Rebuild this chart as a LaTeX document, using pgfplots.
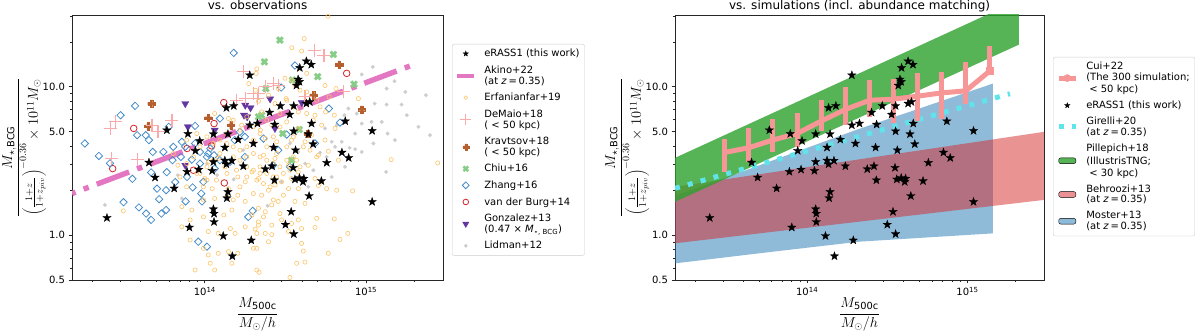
\documentclass[border=0pt]{standalone}
\usepackage{fontspec}
\setmainfont{DejaVu Sans}
\usepackage{pgfplots}
\pgfplotsset{compat=1.18}

\definecolor{tabblue}{HTML}{1F77B4}
\definecolor{tabred}{HTML}{D62728}
\definecolor{tabgreen}{HTML}{2CA02C}
\definecolor{tabpink}{HTML}{E377C2}
\definecolor{erfcol}{RGB}{253,196,105}
\definecolor{demcol}{RGB}{250,170,170}
\definecolor{kracol}{RGB}{180,95,45}
\definecolor{chicol}{RGB}{135,205,135}
\definecolor{zhacol}{RGB}{70,140,200}
\definecolor{gonzcol}{RGB}{100,55,160}
\definecolor{lidcol}{RGB}{205,205,205}
\definecolor{cuicol}{RGB}{247,150,150}
\definecolor{gircol}{RGB}{95,228,235}

\newcommand{\legfont}{\fontsize{10}{11.6}\selectfont}
\newcommand{\labfont}{\fontsize{14}{17}\selectfont}

\pgfdeclareplotmark{fstar}{%
 \pgfpathmoveto{\pgfpointpolar{90}{\pgfplotmarksize}}%
 \pgfpathlineto{\pgfpointpolar{126}{0.4*\pgfplotmarksize}}%
 \pgfpathlineto{\pgfpointpolar{162}{\pgfplotmarksize}}%
 \pgfpathlineto{\pgfpointpolar{198}{0.4*\pgfplotmarksize}}%
 \pgfpathlineto{\pgfpointpolar{234}{\pgfplotmarksize}}%
 \pgfpathlineto{\pgfpointpolar{270}{0.4*\pgfplotmarksize}}%
 \pgfpathlineto{\pgfpointpolar{306}{\pgfplotmarksize}}%
 \pgfpathlineto{\pgfpointpolar{342}{0.4*\pgfplotmarksize}}%
 \pgfpathlineto{\pgfpointpolar{18}{\pgfplotmarksize}}%
 \pgfpathlineto{\pgfpointpolar{54}{0.4*\pgfplotmarksize}}%
 \pgfpathclose\pgfusepathqfillstroke}

\pgfdeclareplotmark{Pfill}{%
 \pgfpathmoveto{\pgfqpoint{-0.34\pgfplotmarksize}{\pgfplotmarksize}}%
 \pgfpathlineto{\pgfqpoint{0.34\pgfplotmarksize}{\pgfplotmarksize}}%
 \pgfpathlineto{\pgfqpoint{0.34\pgfplotmarksize}{0.34\pgfplotmarksize}}%
 \pgfpathlineto{\pgfqpoint{\pgfplotmarksize}{0.34\pgfplotmarksize}}%
 \pgfpathlineto{\pgfqpoint{\pgfplotmarksize}{-0.34\pgfplotmarksize}}%
 \pgfpathlineto{\pgfqpoint{0.34\pgfplotmarksize}{-0.34\pgfplotmarksize}}%
 \pgfpathlineto{\pgfqpoint{0.34\pgfplotmarksize}{-\pgfplotmarksize}}%
 \pgfpathlineto{\pgfqpoint{-0.34\pgfplotmarksize}{-\pgfplotmarksize}}%
 \pgfpathlineto{\pgfqpoint{-0.34\pgfplotmarksize}{-0.34\pgfplotmarksize}}%
 \pgfpathlineto{\pgfqpoint{-\pgfplotmarksize}{-0.34\pgfplotmarksize}}%
 \pgfpathlineto{\pgfqpoint{-\pgfplotmarksize}{0.34\pgfplotmarksize}}%
 \pgfpathlineto{\pgfqpoint{-0.34\pgfplotmarksize}{0.34\pgfplotmarksize}}%
 \pgfpathclose\pgfusepathqfillstroke}

\begin{document}
\begin{tikzpicture}
\useasboundingbox (0pt,0pt) rectangle (1200pt,332pt);

% ================= LEFT PANEL =================
\begin{axis}[at={(72pt,52pt)}, anchor=south west, width=371pt, height=265pt,
  scale only axis, xmode=log, ymode=log,
  xmin=1.5e13, xmax=3e15, ymin=0.5, ymax=30.4,
  xtick={1e14,1e15}, xticklabels={10\textsuperscript{14},10\textsuperscript{15}},
  minor xtick={2e13,3e13,4e13,5e13,6e13,7e13,8e13,9e13,2e14,3e14,4e14,5e14,6e14,7e14,8e14,9e14,2e15},
  ytick={0.5,1,5,10}, yticklabels={0.5,1.0,5.0,10.0},
  minor ytick={0.6,0.7,0.8,0.9,2,3,4,6,7,8,9,20,30},
  tick align=outside, xtick pos=bottom, ytick pos=left,
  major tick length=3.5pt, minor tick length=2pt,
  major tick style={black!85, line width=0.8pt},
  minor tick style={black!85, line width=0.6pt},
  axis line style={black!85, line width=0.8pt},
  tick label style={font=\fontsize{10}{12}\selectfont},
  every axis title/.style={at={(0.5,1)}, anchor=base, yshift=5.5pt, font=\fontsize{12}{14}\selectfont},
  every axis x label/.style={at={(axis description cs:0.5,-0.1925)}, anchor=south, inner sep=0pt},
  every axis y label/.style={at={(axis description cs:-0.1887,0.5)}, rotate=90, anchor=north, inner sep=0pt},
  xlabel={\labfont$\displaystyle\frac{M_{\mathrm{500c}}}{M_\odot/h}$},
  ylabel={\labfont$\displaystyle\frac{M_{\star,\mathrm{BCG}}}{\left(\frac{1+z}{1+z_{piv}}\right)^{-0.36}\times 10^{11}M_\odot}$},
  legend style={font=\legfont, draw=black!20, rounded corners=2pt, fill=white,
    row sep=3.5pt, inner xsep=3pt, inner ysep=3pt, at={(1.0243,0.8906)}, anchor=north west,
    /tikz/every odd column/.append style={column sep=6pt}},
  legend cell align=left,
  title={\fontsize{12}{14}\selectfont vs. observations}]

% Lidman+12
\addplot[forget plot, only marks, lidcol, mark=*, mark size=1.9pt, mark options={draw=lidcol, fill=lidcol, line width=0.1pt}] table {
1.10e15 13.6
9.4e14 12.1
1.34e15 9.72
1.75e15 9.23
1.50e15 10.9
2.35e15 8.77
1.66e15 7.58
1.34e15 7.58
1.13e15 7.70
8.75e14 6.60
7.76e14 7.13
9.4e14 5.65
1.08e15 5.80
1.25e15 5.80
1.79e15 6.43
2.11e15 5.37
2.49e15 4.72
1.36e15 4.84
1.51e15 4.37
1.11e15 4.15
8.55e14 4.84
7.33e14 6.43
6.57e14 5.51
7.06e14 4.26
6.12e14 4.26
5.56e14 5.24
9.4e14 3.64
8.55e14 3.80
7.9e14 3.88
7.4e14 2.89
6.12e14 2.47
1.33e15 2.67
6.42e14 3.94
5.18e14 3.60
4.71e14 2.74
4.18e14 3.04
4.38e14 2.12
2.45e14 1.58
2.99e14 2.29
3.80e14 3.64
2.40e13 1.60
6.8e13 2.54
7.2e13 1.77
1.03e14 3.04
1.19e14 2.54
1.51e14 2.38
1.73e14 3.74
3.37e14 4.15
5.69e14 3.37
};

% Gonzalez+13
\addplot[forget plot, only marks, gonzcol, mark=triangle*, mark size=4.2pt, mark options={rotate=180, draw=gonzcol, fill=gonzcol, line width=0.3pt}] table {
7.56e13 7.70
7.85e13 5.37
1.78e14 7.51
1.92e14 7.21
1.75e14 6.43
1.83e14 6.27
1.15e14 5.10
2.54e14 8.28
3.99e14 7.82
2.72e14 5.24
7.56e13 2.96
};

% van der Burg+14
\addplot[forget plot, only marks, tabred, mark=o, mark size=3.3pt, mark options={draw=tabred, line width=0.8pt}] table {
2.68e13 2.81
3.62e13 5.24
1.31e14 7.82
1.14e14 5.65
1.10e14 4.00
7.75e13 3.84
8.5e13 2.74
1.32e14 2.25
7.58e14 12.3
};

% Zhang+16
\addplot[forget plot, only marks, zhacol, mark=square, mark size=2.6pt, mark options={rotate=45, draw=zhacol, line width=0.8pt}] table {
1.51e14 16.9
3.62e14 13.9
3.69e13 7.43
3.0e13 6.43
1.80e13 4.15
2.2e13 3.42
2.58e13 3.05
3.8e13 4.72
4.3e13 4.72
4.5e13 4.37
5.97e13 5.37
8.7e13 5.45
1.24e14 6.11
2.97e14 9.87
5.88e14 7.13
6.89e14 5.74
3.22e14 4.76
4.75e13 3.64
5.53e13 3.64
6.37e13 3.94
7.2e13 4.26
7.56e13 3.94
8.7e13 4.15
9.33e13 3.64
1.05e14 3.55
1.08e14 3.84
9.33e13 3.04
1.03e14 3.37
1.14e14 3.46
1.24e14 3.20
1.43e14 3.12
1.15e14 2.81
8.3e13 3.23
7.1e13 3.37
6.3e13 3.20
5.8e13 2.66
4.64e13 2.65
3.55e13 2.40
5.05e13 2.06
5.75e13 2.01
6.55e13 2.28
7.75e13 2.47
8.4e13 2.10
9.79e13 2.29
9.5e13 1.91
7.6e13 1.69
9.6e13 1.69
5.2e13 1.75
3.13e13 1.67
3.9e13 1.54
4.32e13 1.40
4.64e13 1.27
5.37e13 1.40
5.75e13 1.48
1.98e14 1.46
1.86e14 1.33
9.1e13 0.905
1.03e14 0.838
1.65e14 4.97
1.77e14 4.60
2.31e14 4.48
1.53e14 4.37
1.77e14 3.37
2.85e14 3.74
2.65e14 2.96
3.37e14 2.89
4.82e14 4.15
};

% Chiu+16
\addplot[forget plot, only marks, chicol, mark=Pfill, mark size=3.8pt, mark options={rotate=45, draw=chicol, fill=chicol, line width=0.2pt}] table {
2.92e14 20.6
2.34e14 14.7
6.27e14 16.5
5.01e14 11.7
3.49e14 11.1
8.42e14 10.4
2.39e14 9.72
2.25e14 6.43
2.15e14 6.27
3.85e14 5.15
3.04e14 4.84
3.45e14 3.20
};

% Kravtsov+18
\addplot[forget plot, only marks, kracol, mark=Pfill, mark size=3.7pt, mark options={draw=kracol, fill=kracol, line width=0.2pt}] table {
4.66e13 7.70
4.44e13 5.42
1.05e14 6.17
1.45e14 5.51
6.8e14 14.1
4.71e14 8.77
9.4e14 7.03
4.34e14 4.84
};

% DeMaio+18
\addplot[forget plot, only marks, demcol, mark=+, mark size=6.5pt, mark options={draw=demcol, line width=1.1pt}] table {
2.6e13 5.24
2.79e13 5.80
4.7e13 5.51
6.25e13 5.95
5.12e13 4.97
2.63e13 3.29
3.83e13 3.23
1.74e14 12.6
2.01e14 9.0
1.78e14 8.32
2.11e14 8.32
2.37e14 9.97
2.66e14 10.5
2.85e14 10.2
2.15e14 9.0
4.78e14 17.6
5.48e14 16.3
7.23e14 9.23
4.18e14 8.54
1.57e14 8.11
};

% Erfanianfar+19
\addplot[forget plot, only marks, erfcol, mark=o, mark size=2.1pt, mark options={draw=erfcol, line width=0.6pt}] table {
5.8e14 29.8
4.13e14 21.1
3.46e14 18.3
3.98e14 17.4
4.28e14 12.3
3.45e14 11.1
5.56e14 10.2
6.5e14 9.72
5.9e14 8.54
5.18e14 7.32
5.6e14 6.77
6.35e14 6.43
4.82e14 6.43
6.42e14 5.24
8.96e14 8.32
4.28e14 9.23
3.62e14 10.2
3.14e14 11.4
2.85e14 9.72
2.48e14 8.77
2.15e14 7.99
3.19e14 8.32
2.72e14 7.70
3.80e14 6.77
3.22e14 5.80
2.60e14 5.51
2.25e14 6.77
5.30e14 5.51
4.71e14 5.95
3.80e14 5.24
4.60e14 4.72
5.56e14 4.37
4.18e14 4.26
3.45e14 4.37
2.79e14 4.26
2.37e14 4.48
2.10e14 13.2
2.08e14 12.3
1.87e14 10.5
2.06e14 9.47
1.15e14 6.60
1.69e14 5.51
1.40e14 6.11
2.21e14 5.10
1.43e15 3.23
2.78e15 3.07
6.57e14 2.01
8.25e14 1.99
6.35e14 1.29
7.7e14 1.03
6.89e14 0.938
5.83e14 0.756
4.94e14 1.30
4.82e14 1.13
3.98e14 1.11
3.98e14 0.882
4.08e14 0.783
3.71e14 0.648
4.18e14 0.660
3.37e14 0.52
2.17e14 0.563
3.62e14 1.69
3.80e14 1.27
3.45e14 1.20
3.30e14 1.06
4.18e14 1.64
3.07e14 1.86
2.85e14 1.69
2.60e14 1.60
2.37e14 1.44
2.15e14 1.52
2.25e14 1.86
2.48e14 2.01
2.72e14 2.18
2.99e14 2.29
3.30e14 2.06
3.45e14 2.41
3.80e14 2.06
4.82e14 2.41
5.30e14 2.29
5.69e14 2.06
5.06e14 2.16
5.06e14 3.46
5.83e14 3.68
6.73e14 3.20
2.31e14 1.33
2.60e14 1.17
2.99e14 1.27
2.15e14 1.17
2.37e14 1.03
2.60e14 1.01
2.48e14 0.905
2.10e14 0.817
2.31e14 3.46
2.72e14 3.29
3.30e14 2.96
3.80e14 2.67
4.38e14 2.96
3.12e13 1.46
7.2e13 1.14
8.1e13 0.929
8.7e13 0.584
1.08e14 0.648
1.15e14 0.584
8.3e13 1.48
9.8e13 1.33
1.05e14 1.06
9.8e13 0.817
1.21e14 0.756
1.40e14 0.776
1.60e14 0.756
1.54e14 1.03
1.78e14 1.14
2.05e14 1.10
2.10e14 1.03
2.00e14 0.817
6.8e13 2.96
1.0e14 2.41
1.11e14 2.06
1.05e14 3.12
1.21e14 3.29
1.33e14 2.89
1.60e14 2.47
1.78e14 2.29
1.96e14 2.67
2.15e14 2.41
1.60e14 1.86
1.78e14 1.69
1.47e14 1.48
1.31e14 1.37
1.21e14 1.03
1.44e14 1.11
7.2e13 1.56
8.1e13 1.27
9.8e13 1.73
1.15e14 1.77
1.40e14 2.06
1.96e14 1.37
2.15e14 1.23
1.05e14 0.737
1.47e14 0.648
2.10e14 0.584
1.24e14 4.37
1.37e14 4.15
1.50e14 3.94
1.65e14 3.74
1.82e14 3.94
2.00e14 3.55
2.20e14 3.37
2.42e14 3.20
2.66e14 3.04
1.50e14 3.37
1.65e14 3.20
1.82e14 2.89
2.00e14 2.74
2.20e14 2.61
2.42e14 2.61
2.66e14 2.47
2.92e14 2.89
3.22e14 3.20
3.54e14 3.37
3.89e14 2.89
1.24e14 3.55
1.13e14 3.20
1.03e14 2.89
9.33e13 2.61
1.03e14 2.35
1.18e14 2.35
1.37e14 2.61
1.57e14 2.74
1.82e14 2.47
2.10e14 2.35
2.31e14 2.23
2.54e14 2.12
2.79e14 2.47
3.07e14 2.61
3.37e14 2.74
3.71e14 3.20
4.08e14 3.94
4.49e14 3.74
4.94e14 3.37
1.37e14 4.84
1.65e14 5.10
2.00e14 5.37
2.42e14 5.95
2.92e14 6.60
3.54e14 7.32
3.22e14 8.11
3.89e14 9.47
1.50e14 5.95
1.82e14 6.27
2.20e14 4.84
2.66e14 4.60
3.22e14 3.94
1.13e14 4.15
9.33e13 3.94
8.49e13 3.37
7.71e13 3.04
8.9e13 2.61
9.79e13 2.12
7.71e13 2.12
7.01e13 2.47
6.37e13 3.55
2.00e14 4.37
2.42e14 3.94
2.92e14 5.37
3.54e14 4.60
4.28e14 6.60
4.94e14 8.11
8.9e13 4.84
1.03e14 4.60
7.71e13 4.37
1.82e14 3.37
2.20e14 2.89
2.79e14 3.55
1.65e14 2.12
2.00e14 1.91
1.50e14 1.73
1.37e14 1.82
2.66e14 1.73
2.92e14 1.40
};

% Akino+22
\addplot[forget plot, tabpink, line width=5.4pt, dash pattern=on 34.6pt off 8.6pt on 5.4pt off 8.6pt, dash phase=30.8pt] coordinates {(1.5e13,1.91) (2.01e15,14.2)};

% eRASS1
\addplot[forget plot, only marks, black, mark=fstar, mark size=4.4pt, mark options={draw=black, fill=black, line width=0.3pt}] table {
1.90e14 11.96
1.36e14 7.21
1.51e14 7.43
5.81e13 5.10
7.85e13 4.82
1.13e14 4.80
1.39e14 4.80
9.29e13 4.32
1.61e14 4.41
1.90e14 5.51
2.12e14 5.66
2.00e14 4.15
1.33e14 3.90
8.73e13 3.71
4.50e13 3.09
1.13e14 3.12
1.33e14 3.19
1.47e14 3.18
1.36e14 3.01
1.73e14 2.92
4.91e13 2.45
7.75e13 2.68
9.16e13 2.77
1.11e14 2.72
6.45e13 2.07
1.39e14 1.96
1.37e14 1.78
1.13e14 1.50
1.14e14 1.40
2.47e13 1.31
1.14e14 1.23
8.02e13 1.13
1.30e14 0.99
1.94e14 0.925
1.48e14 0.724
4.26e14 14.85
4.57e14 14.1
3.88e14 13.4
3.79e14 11.2
3.86e14 10.8
3.70e14 10.2
2.94e14 7.43
3.56e14 7.43
4.26e14 7.71
4.47e14 7.91
2.52e14 6.71
3.36e14 6.50
2.71e14 5.57
4.59e14 5.66
7.43e14 5.86
3.56e14 5.02
4.38e14 4.80
1.09e15 5.05
4.69e14 4.11
2.67e14 3.90
3.65e14 3.74
7.08e14 3.61
7.80e14 3.32
5.70e14 3.08
2.61e14 2.92
2.37e14 2.79
3.53e14 2.85
2.70e14 2.35
3.62e14 2.38
3.86e14 2.43
4.11e14 2.41
4.06e14 2.29
5.28e14 2.32
4.43e14 1.84
1.09e15 1.68
3.43e14 1.44
3.16e14 1.18
3.56e14 1.02
};

\addlegendimage{only marks, black, mark=fstar, mark size=2.8pt, mark options={draw=black, fill=black, line width=0.3pt}}
\addlegendentry{\legfont eRASS1 (this work)}
\addlegendimage{tabpink, line width=4pt}
\addlegendentry{\legfont\shortstack[l]{Akino+22\\(at \textit{z}\,=\,0.35)}}
\addlegendimage{only marks, erfcol, mark=o, mark size=1.8pt, mark options={draw=erfcol, line width=0.6pt}}
\addlegendentry{\legfont Erfanianfar+19}
\addlegendimage{only marks, demcol, mark=+, mark size=5.5pt, mark options={draw=demcol, line width=1pt}}
\addlegendentry{\legfont\shortstack[l]{DeMaio+18\\( < 50 kpc)}}
\addlegendimage{only marks, kracol, mark=Pfill, mark size=3pt, mark options={draw=kracol, fill=kracol, line width=0.2pt}}
\addlegendentry{\legfont\shortstack[l]{Kravtsov+18\\( < 50 kpc)}}
\addlegendimage{only marks, chicol, mark=Pfill, mark size=3.2pt, mark options={rotate=45, draw=chicol, fill=chicol, line width=0.2pt}}
\addlegendentry{\legfont Chiu+16}
\addlegendimage{only marks, zhacol, mark=square, mark size=2.4pt, mark options={rotate=45, draw=zhacol, line width=0.8pt}}
\addlegendentry{\legfont Zhang+16}
\addlegendimage{only marks, tabred, mark=o, mark size=2.8pt, mark options={draw=tabred, line width=0.8pt}}
\addlegendentry{\legfont van der Burg+14}
\addlegendimage{only marks, gonzcol, mark=triangle*, mark size=3.6pt, mark options={rotate=180, draw=gonzcol, fill=gonzcol}}
\addlegendentry{\legfont\shortstack[l]{Gonzalez+13\\(0.47 × \textit{M}\textsubscript{⋆, BCG})}}
\addlegendimage{only marks, lidcol, mark=*, mark size=1.6pt, mark options={draw=lidcol, fill=lidcol}}
\addlegendentry{\legfont Lidman+12}
\end{axis}

% ================= RIGHT PANEL =================
\begin{axis}[at={(675pt,52pt)}, anchor=south west, width=369pt, height=265pt,
  scale only axis, xmode=log, ymode=log,
  xmin=1.5e13, xmax=3e15, ymin=0.5, ymax=30.4,
  xtick={1e14,1e15}, xticklabels={10\textsuperscript{14},10\textsuperscript{15}},
  minor xtick={2e13,3e13,4e13,5e13,6e13,7e13,8e13,9e13,2e14,3e14,4e14,5e14,6e14,7e14,8e14,9e14,2e15},
  ytick={0.5,1,5,10}, yticklabels={0.5,1.0,5.0,10.0},
  minor ytick={0.6,0.7,0.8,0.9,2,3,4,6,7,8,9,20,30},
  tick align=outside, xtick pos=bottom, ytick pos=left,
  major tick length=3.5pt, minor tick length=2pt,
  major tick style={black!85, line width=0.8pt},
  minor tick style={black!85, line width=0.6pt},
  axis line style={black!85, line width=0.8pt},
  tick label style={font=\fontsize{10}{12}\selectfont},
  every axis title/.style={at={(0.5,1)}, anchor=base, yshift=5.5pt, font=\fontsize{12}{14}\selectfont},
  every axis x label/.style={at={(axis description cs:0.5,-0.1925)}, anchor=south, inner sep=0pt},
  every axis y label/.style={at={(axis description cs:-0.1897,0.5)}, rotate=90, anchor=north, inner sep=0pt},
  xlabel={\labfont$\displaystyle\frac{M_{\mathrm{500c}}}{M_\odot/h}$},
  ylabel={\labfont$\displaystyle\frac{M_{\star,\mathrm{BCG}}}{\left(\frac{1+z}{1+z_{piv}}\right)^{-0.36}\times 10^{11}M_\odot}$},
  legend style={font=\legfont, draw=black!20, rounded corners=2pt, fill=white,
    row sep=3pt, inner xsep=3pt, inner ysep=3pt, at={(1.0244,0.8415)}, anchor=north west,
    /tikz/every odd column/.append style={column sep=6pt}},
  legend cell align=left,
  title={\fontsize{12}{14}\selectfont vs. simulations (incl. abundance matching)}]

% Moster+13
\addplot[forget plot, draw=none, fill=tabblue, fill opacity=0.5] coordinates {
(1.5e13,1.84) (2.33e13,2.18) (2.0e14,5.1) (1.44e15,10.5)
(1.44e15,1.03) (2.12e14,0.906) (5.66e13,0.768) (1.5e13,0.647) (1.5e13,1.84)};
% Behroozi+13
\addplot[forget plot, draw=none, fill=tabred, fill opacity=0.5] coordinates {
(1.5e13,2.12) (3e15,4.97) (3e15,1.73) (1.5e13,0.883) (1.5e13,2.12)};
% Pillepich+18
\addplot[forget plot, draw=none, fill=tabgreen, fill opacity=0.8] coordinates {
(1.5e13,3.32) (2.09e15,38.3) (2.09e15,19.2) (1.5e13,1.68) (1.5e13,3.32)};
% Girelli+20
\addplot[forget plot, gircol, line width=5pt, dash pattern=on 5pt off 8.3pt] coordinates {(1.5e13,2.07) (1.84e15,8.97)};

% Cui+22 error bars
\addplot[forget plot, cuicol, line width=5pt] coordinates {(3.05e13,2.65) (3.05e13,4.44)};
\addplot[forget plot, cuicol, line width=5pt] coordinates {(4.31e13,3.13) (4.31e13,5.24)};
\addplot[forget plot, cuicol, line width=5pt] coordinates {(6.08e13,3.65) (6.08e13,6.05)};
\addplot[forget plot, cuicol, line width=5pt] coordinates {(8.65e13,3.95) (8.65e13,6.67)};
\addplot[forget plot, cuicol, line width=5pt] coordinates {(1.22e14,5.05) (1.22e14,8.20)};
\addplot[forget plot, cuicol, line width=5pt] coordinates {(1.73e14,5.51) (1.73e14,9.98)};
\addplot[forget plot, cuicol, line width=5pt] coordinates {(2.45e14,6.27) (2.45e14,11.1)};
\addplot[forget plot, cuicol, line width=5pt] coordinates {(3.44e14,5.71) (3.44e14,11.2)};
\addplot[forget plot, cuicol, line width=5pt] coordinates {(4.86e14,5.90) (4.86e14,12.3)};
\addplot[forget plot, cuicol, line width=5pt] coordinates {(6.90e14,6.06) (6.90e14,12.5)};
\addplot[forget plot, cuicol, line width=5pt] coordinates {(9.75e14,7.71) (9.75e14,14.6)};
\addplot[forget plot, cuicol, line width=5pt] coordinates {(1.38e15,12.0) (1.38e15,18.8)};
% Cui+22 median
\addplot[forget plot, cuicol, line width=5pt, line join=round] coordinates {
(3.05e13,3.61) (4.31e13,3.88) (6.08e13,4.37) (8.65e13,4.84) (1.22e14,5.86) (1.73e14,7.03)
(2.45e14,8.11) (3.44e14,8.24) (4.86e14,8.63) (6.90e14,9.09) (9.75e14,9.38) (1.38e15,12.8)};
\addplot[forget plot, only marks, cuicol, mark=square*, mark size=3.6pt, mark options={draw=cuicol, fill=cuicol, line width=0.3pt}] coordinates {(1.38e15,12.8)};

% eRASS1
\addplot[forget plot, only marks, black, mark=fstar, mark size=4.4pt, mark options={draw=black, fill=black, line width=0.3pt}] table {
1.90e14 11.96
1.36e14 7.21
1.51e14 7.43
5.81e13 5.10
7.85e13 4.82
1.13e14 4.80
1.39e14 4.80
9.29e13 4.32
1.61e14 4.41
1.90e14 5.51
2.12e14 5.66
2.00e14 4.15
1.33e14 3.90
8.73e13 3.71
4.50e13 3.09
1.13e14 3.12
1.33e14 3.19
1.47e14 3.18
1.36e14 3.01
1.73e14 2.92
4.91e13 2.45
7.75e13 2.68
9.16e13 2.77
1.11e14 2.72
6.45e13 2.07
1.39e14 1.96
1.37e14 1.78
1.13e14 1.50
1.14e14 1.40
2.47e13 1.31
1.14e14 1.23
8.02e13 1.13
1.30e14 0.99
1.94e14 0.925
1.48e14 0.724
4.26e14 14.85
4.57e14 14.1
3.88e14 13.4
3.79e14 11.2
3.86e14 10.8
3.70e14 10.2
2.94e14 7.43
3.56e14 7.43
4.26e14 7.71
4.47e14 7.91
2.52e14 6.71
3.36e14 6.50
2.71e14 5.57
4.59e14 5.66
7.43e14 5.86
3.56e14 5.02
4.38e14 4.80
1.09e15 5.05
4.69e14 4.11
2.67e14 3.90
3.65e14 3.74
7.08e14 3.61
7.80e14 3.32
5.70e14 3.08
2.61e14 2.92
2.37e14 2.79
3.53e14 2.85
2.70e14 2.35
3.62e14 2.38
3.86e14 2.43
4.11e14 2.41
4.06e14 2.29
5.28e14 2.32
4.43e14 1.84
1.09e15 1.68
3.43e14 1.44
3.16e14 1.18
3.56e14 1.02
};

\addlegendimage{cuicol, line width=5pt, mark=*, mark size=3.5pt, mark options={draw=cuicol, fill=cuicol, line width=0.5pt}}
\addlegendentry{\legfont\shortstack[l]{Cui+22\\(The 300 simulation;\\\hspace*{0.3em}< 50 kpc)}}
\addlegendimage{only marks, black, mark=fstar, mark size=2.8pt, mark options={draw=black, fill=black, line width=0.3pt}}
\addlegendentry{\legfont eRASS1 (this work)}
\addlegendimage{gircol, line width=5pt, dash pattern=on 5pt off 8.3pt}
\addlegendentry{\legfont\shortstack[l]{Girelli+20\\(at \textit{z}\,=\,0.35)}}
\addlegendimage{area legend, draw=none, fill=tabgreen, fill opacity=0.8}
\addlegendentry{\legfont\shortstack[l]{Pillepich+18\\(IllustrisTNG;\\\hspace*{0.3em}< 30 kpc)}}
\addlegendimage{area legend, draw=none, fill=tabred, fill opacity=0.5}
\addlegendentry{\legfont\shortstack[l]{Behroozi+13\\(at \textit{z}\,=\,0.35)}}
\addlegendimage{area legend, draw=none, fill=tabblue, fill opacity=0.5}
\addlegendentry{\legfont\shortstack[l]{Moster+13\\(at \textit{z}\,=\,0.35)}}
\end{axis}
\end{tikzpicture}
\end{document}
